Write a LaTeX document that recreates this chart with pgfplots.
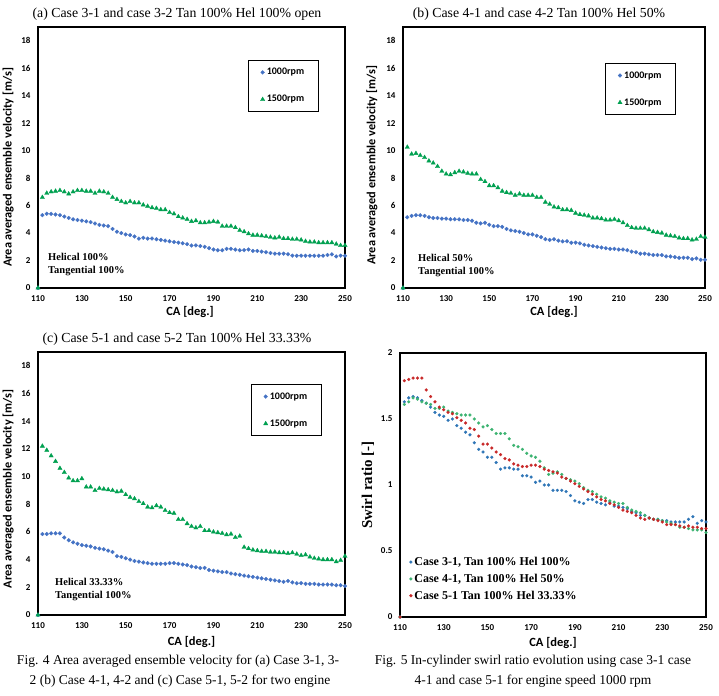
\documentclass[border=0pt]{standalone}
\usepackage{fontspec}
\setmainfont{Liberation Serif}
\newfontfamily\calib{Carlito}
\usepackage{pgfplots}
\usepackage{pgfplotstable}
\pgfplotsset{compat=1.18}

\definecolor{vblue}{RGB}{68,114,196}
\definecolor{vgreen}{RGB}{0,160,80}
\definecolor{sblue}{RGB}{46,117,182}
\definecolor{sgreen}{RGB}{60,179,113}
\definecolor{sred}{RGB}{200,40,40}

\pgfplotstableread{
x b g
110 0 0
112 5.30 6.60
114 5.40 6.90
116 5.40 7.00
118 5.35 7.05
120 5.30 7.10
122 5.20 7.00
124 5.10 6.85
126 5.00 7.00
128 4.95 7.10
130 4.90 7.10
132 4.85 7.05
134 4.80 7.05
136 4.70 6.90
138 4.60 7.05
140 4.55 7.00
142 4.50 6.90
144 4.30 6.60
146 4.10 6.45
148 4.00 6.30
150 3.90 6.20
152 3.85 6.30
154 3.75 6.20
156 3.60 6.20
158 3.65 6.05
160 3.60 5.95
162 3.60 5.85
164 3.55 5.80
166 3.50 5.70
168 3.45 5.70
170 3.40 5.50
172 3.35 5.40
174 3.30 5.20
176 3.25 5.10
178 3.20 5.00
180 3.10 4.85
182 3.10 4.90
184 3.05 4.75
186 3.00 4.75
188 2.90 4.80
190 2.80 4.85
192 2.75 4.80
194 2.75 4.50
196 2.85 4.50
198 2.85 4.50
200 2.80 4.40
202 2.75 4.20
204 2.75 4.10
206 2.80 3.95
208 2.70 3.85
210 2.70 3.85
212 2.65 3.80
214 2.60 3.75
216 2.55 3.70
218 2.50 3.65
220 2.50 3.70
222 2.50 3.60
224 2.45 3.60
226 2.35 3.55
228 2.35 3.55
230 2.35 3.50
232 2.35 3.40
234 2.35 3.35
236 2.35 3.35
238 2.35 3.30
240 2.35 3.30
242 2.40 3.30
244 2.45 3.30
246 2.30 3.20
248 2.35 3.10
250 2.35 3.10
}\dataA

\pgfplotstableread{
x b g
110 0 0
112 5.15 10.25
114 5.25 9.75
116 5.30 9.80
118 5.30 9.65
120 5.25 9.50
122 5.15 9.25
124 5.10 9.10
126 5.10 8.85
128 5.05 8.50
130 5.05 8.30
132 5.00 8.25
134 5.00 8.40
136 5.00 8.50
138 4.95 8.45
140 4.95 8.35
142 4.90 8.30
144 4.75 8.30
146 4.70 7.90
148 4.75 7.75
150 4.60 7.45
152 4.50 7.45
154 4.50 7.30
156 4.45 7.05
158 4.30 6.95
160 4.20 6.90
162 4.15 6.75
164 4.10 6.85
166 4.00 6.75
168 3.90 6.75
170 3.90 6.75
172 3.80 6.60
174 3.70 6.60
176 3.55 6.25
178 3.50 6.10
180 3.55 5.90
182 3.45 5.85
184 3.40 5.70
186 3.40 5.70
188 3.30 5.65
190 3.30 5.45
192 3.25 5.35
194 3.15 5.30
196 3.10 5.25
198 3.05 5.10
200 3.00 5.10
202 2.95 5.05
204 2.90 4.95
206 2.85 4.95
208 2.85 5.00
210 2.80 4.90
212 2.80 4.75
214 2.75 4.55
216 2.65 4.40
218 2.60 4.35
220 2.50 4.35
222 2.50 4.35
224 2.45 4.25
226 2.40 4.10
228 2.40 4.05
230 2.40 4.00
232 2.30 3.85
234 2.30 3.80
236 2.25 3.75
238 2.20 3.65
240 2.20 3.60
242 2.20 3.60
244 2.10 3.50
246 2.15 3.55
248 2.05 3.75
250 2.05 3.70
}\dataB

\pgfplotstableread{
x b g
110 0 0
112 5.85 12.20
114 5.85 11.90
116 5.90 11.50
118 5.90 11.10
120 5.90 10.60
122 5.60 10.30
124 5.40 9.90
126 5.25 9.70
128 5.15 9.70
130 5.05 9.85
132 5.00 9.25
134 4.95 9.25
136 4.85 9.00
138 4.80 9.15
140 4.75 9.10
142 4.65 9.05
144 4.55 9.00
146 4.25 8.90
148 4.20 8.95
150 4.10 8.70
152 4.00 8.50
154 3.90 8.40
156 3.85 8.20
158 3.80 8.05
160 3.75 7.80
162 3.70 7.75
164 3.70 7.90
166 3.70 7.80
168 3.70 7.55
170 3.75 7.40
172 3.75 7.35
174 3.70 6.90
176 3.65 6.90
178 3.60 6.60
180 3.50 6.40
182 3.45 6.30
184 3.40 6.40
186 3.40 6.10
188 3.25 6.10
190 3.20 6.00
192 3.15 5.95
194 3.10 5.90
196 3.10 5.80
198 3.00 5.85
200 2.95 5.60
202 2.90 5.70
204 2.85 4.90
206 2.80 4.80
208 2.75 4.70
210 2.70 4.65
212 2.65 4.60
214 2.60 4.60
216 2.55 4.55
218 2.50 4.55
220 2.45 4.50
222 2.40 4.50
224 2.45 4.45
226 2.35 4.50
228 2.30 4.40
230 2.30 4.30
232 2.25 4.35
234 2.25 4.20
236 2.25 4.10
238 2.20 4.05
240 2.20 4.00
242 2.20 4.00
244 2.20 4.00
246 2.15 3.85
248 2.15 3.95
250 2.10 4.25
}\dataC

\pgfplotstableread{
x a b c
110 0 0 0
112 1.63 1.61 1.79
114 1.66 1.63 1.80
116 1.67 1.66 1.81
118 1.66 1.65 1.81
120 1.64 1.63 1.81
122 1.62 1.62 1.72
124 1.59 1.61 1.67
126 1.55 1.58 1.63
128 1.53 1.58 1.59
130 1.52 1.59 1.57
132 1.49 1.56 1.55
134 1.50 1.55 1.54
136 1.45 1.54 1.51
138 1.43 1.53 1.49
140 1.40 1.53 1.47
142 1.38 1.53 1.43
144 1.32 1.50 1.42
146 1.27 1.47 1.37
148 1.25 1.44 1.31
150 1.21 1.45 1.31
152 1.21 1.42 1.28
154 1.17 1.39 1.25
156 1.12 1.39 1.23
158 1.13 1.39 1.20
160 1.13 1.35 1.19
162 1.12 1.30 1.16
164 1.12 1.29 1.15
166 1.07 1.27 1.14
168 1.07 1.24 1.14
170 1.06 1.22 1.15
172 1.02 1.21 1.15
174 1.03 1.18 1.14
176 1.00 1.13 1.12
178 1.00 1.08 1.11
180 0.96 1.09 1.10
182 0.96 1.10 1.09
184 0.96 1.08 1.06
186 0.95 1.05 1.05
188 0.92 1.04 1.03
190 0.88 1.03 1.01
192 0.87 1.01 0.99
194 0.86 0.98 0.97
196 0.89 0.96 0.95
198 0.89 0.95 0.93
200 0.87 0.93 0.91
202 0.86 0.91 0.89
204 0.85 0.90 0.88
206 0.87 0.88 0.86
208 0.84 0.87 0.85
210 0.84 0.86 0.83
212 0.83 0.86 0.81
214 0.82 0.83 0.80
216 0.80 0.81 0.79
218 0.79 0.80 0.77
220 0.77 0.79 0.75
222 0.77 0.77 0.74
224 0.75 0.75 0.75
226 0.74 0.74 0.74
228 0.74 0.74 0.73
230 0.73 0.73 0.72
232 0.73 0.72 0.70
234 0.72 0.71 0.70
236 0.72 0.70 0.70
238 0.72 0.68 0.69
240 0.72 0.68 0.68
242 0.74 0.67 0.69
244 0.76 0.66 0.68
246 0.71 0.66 0.68
248 0.73 0.66 0.67
250 0.72 0.64 0.67
}\dataD

\pgfplotsset{
  dotleg/.style={legend image code/.code={\draw[mark repeat=2,mark phase=2,##1] plot coordinates {(0pt,0pt)(4pt,0pt)(8pt,0pt)};}},
  panel/.style={
    scale only axis, anchor=south west,
    xmin=110, xmax=250, ymin=0,
    xtick={110,130,...,250},
    axis line style={line width=1.2pt},
    major tick length=0pt,
    clip=false,
    /pgf/number format/assume math mode=true,
    ticklabel style={font=\calib\bfseries\fontsize{9}{10}\selectfont},
    xticklabel style={yshift=-4pt},
    yticklabel style={xshift=-4pt},
    xlabel={CA [deg.]},
    xlabel style={font=\calib\bfseries\fontsize{12.5}{14}\selectfont},
  },
  vel/.style={
    panel, ymax=19, ytick={0,2,...,18},
    ylabel={Area averaged ensemble velocity [m/s]},
    ylabel style={font=\calib\bfseries\fontsize{12.3}{14}\selectfont},
    legend style={anchor=north west, draw=black, line width=1pt,
      inner xsep=12pt, inner ysep=6pt, row sep=15pt,
      font=\calib\bfseries\fontsize{10}{11}\selectfont},
    legend cell align=left,
  },
  bdot/.style={only marks, dotleg, mark=*, mark size=1.9pt,
    mark options={fill=vblue, draw=vblue, line width=0.3pt}},
  gtri/.style={only marks, dotleg, mark=triangle*, mark size=2.5pt,
    mark options={fill=vgreen, draw=vgreen, line width=0.3pt}},
}

\begin{document}
\begin{tikzpicture}
\useasboundingbox (0,0) rectangle (719pt,695pt);

% (a)
\begin{axis}[vel, at={(38pt,407pt)}, width=307pt, height=261pt,
  xlabel style={at={(axis description cs:0.495,-0.092)}, anchor=center},
  ylabel style={at={(axis description cs:-0.097,0.462)}, anchor=center},
  legend style={at={(rel axis cs:0.684,0.874)}}]
\addplot[bdot] table[x=x,y=b]{\dataA};
\addplot[gtri] table[x=x,y=g]{\dataA};
\legend{1000rpm,1500rpm}
\end{axis}

% (b)
\begin{axis}[vel, at={(403pt,407pt)}, width=302pt, height=261pt,
  xlabel style={at={(axis description cs:0.5,-0.092)}, anchor=center},
  ylabel style={at={(axis description cs:-0.103,0.47)}, anchor=center},
  legend style={at={(rel axis cs:0.67,0.862)}}]
\addplot[bdot] table[x=x,y=b]{\dataB};
\addplot[gtri] table[x=x,y=g]{\dataB};
\legend{1000rpm,1500rpm}
\end{axis}

% (c)
\begin{axis}[vel, at={(38pt,80pt)}, width=307pt, height=263pt,
  xlabel style={at={(axis description cs:0.5,-0.103)}, anchor=center},
  ylabel style={at={(axis description cs:-0.097,0.48)}, anchor=center},
  legend style={at={(rel axis cs:0.694,0.878)}}]
\addplot[bdot] table[x=x,y=b]{\dataC};
\addplot[gtri] table[x=x,y=g]{\dataC};
\legend{1000rpm,1500rpm}
\end{axis}

% (d)
\begin{axis}[panel, at={(400pt,78pt)}, width=306pt, height=264pt,
  ymax=2, ytick={0,0.5,...,2},
  ylabel={Swirl ratio [-]},
  ylabel style={font=\bfseries\fontsize{15}{17}\selectfont,
    at={(axis description cs:-0.105,0.5)}, anchor=center},
  xlabel style={at={(axis description cs:0.5,-0.098)}, anchor=center},
  legend style={at={(rel axis cs:0.03,0.235)}, anchor=north west, draw=none,
    fill=none, inner xsep=0pt, inner ysep=0pt, row sep=3pt,
    font=\bfseries\fontsize{12}{14}\selectfont},
  legend cell align=left]
\addplot[only marks, dotleg, mark=*, mark size=1.5pt, mark options={fill=sblue, draw=sblue, line width=0.2pt}] table[x=x,y=a]{\dataD};
\addplot[only marks, dotleg, mark=*, mark size=1.5pt, mark options={fill=sgreen, draw=sgreen, line width=0.2pt}] table[x=x,y=b]{\dataD};
\addplot[only marks, dotleg, mark=*, mark size=1.5pt, mark options={fill=sred, draw=sred, line width=0.2pt}] table[x=x,y=c]{\dataD};
\legend{{Case 3-1, Tan 100\% Hel 100\%},{Case 4-1, Tan 100\% Hel 50\%},{Case 5-1 Tan 100\% Hel 33.33\%}}
\end{axis}

% titles
\begin{scope}[every node/.style={font=\fontsize{13.8}{15}\selectfont, anchor=mid, inner sep=0pt}]
\node at (177pt,680pt) {(a) Case 3-1 and case 3-2 Tan 100\% Hel 100\% open};
\node at (539pt,680pt) {(b) Case 4-1 and case 4-2 Tan 100\% Hel 50\%};
\node at (177pt,355pt) {(c) Case 5-1 and case 5-2 Tan 100\% Hel 33.33\%};
\end{scope}

% captions
\begin{scope}[every node/.style={font=\fontsize{13.5}{15}\selectfont, anchor=mid, inner sep=0pt}]
\node at (178pt,33pt) {Fig. 4 Area averaged ensemble velocity for (a) Case 3-1, 3-};
\node at (180pt,13pt) {2 (b) Case 4-1, 4-2 and (c) Case 5-1, 5-2 for two engine};
\node at (533pt,33pt) {Fig. 5 In-cylinder swirl ratio evolution using case 3-1 case};
\node at (533pt,13pt) {4-1 and case 5-1 for engine speed 1000 rpm};
\end{scope}

% annotations
\begin{scope}[every node/.style={font=\bfseries\fontsize{10.5}{12}\selectfont, anchor=mid west, inner sep=0pt}]
\node at (48pt,437pt) {Helical 100\%};
\node at (48pt,424pt) {Tangential 100\%};
\node at (418pt,436pt) {Helical 50\%};
\node at (418pt,423pt) {Tangential 100\%};
\node at (55pt,112pt) {Helical 33.33\%};
\node at (55pt,99pt) {Tangential 100\%};
\end{scope}
\end{tikzpicture}
\end{document}
